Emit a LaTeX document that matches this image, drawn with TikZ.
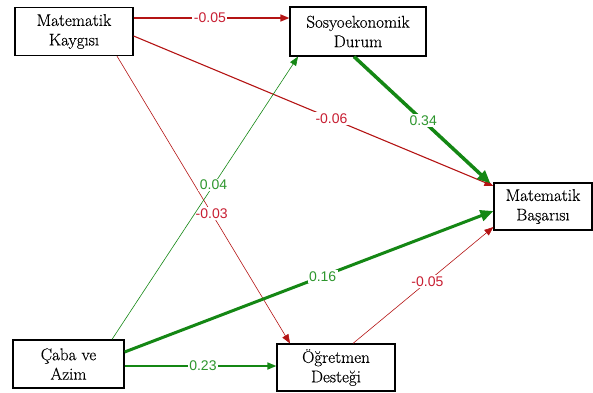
\documentclass[tikz,border=0pt]{standalone}
\usepackage{fontspec}
\setmainfont{Latin Modern Roman}[FakeBold=0.35]
\newfontfamily\labfont{Liberation Sans}
\usetikzlibrary{arrows.meta}
\definecolor{redE}{RGB}{180,20,20}
\definecolor{redT}{RGB}{200,30,50}
\definecolor{greenE}{RGB}{20,135,20}
\definecolor{greenT}{RGB}{45,150,45}
\begin{document}
\begin{tikzpicture}[x=1pt,y=-1pt,
  box/.style={draw=black, line width=1.2pt, rectangle, inner sep=0pt, align=center,
    font=\fontsize{17}{19.5}\selectfont},
  lab/.style={fill=white, inner sep=1.5pt, font=\labfont\fontsize{14}{16}\selectfont},
  redpath/.style={draw=redE, -{Triangle[length=9pt,width=7pt]}},
  greenpath/.style={draw=greenE, -{Triangle[length=9pt,width=7pt]}},
  bigtip/.style={-{Triangle[length=13pt,width=11pt]}}]
\useasboundingbox (0,0) rectangle (593,392);
\node[box, minimum width=118pt, minimum height=48pt] (mk) at (74,31.5) {Matematik\\Kaygısı};
\node[box, minimum width=136pt, minimum height=49pt] (sd) at (358,31.5) {Sosyoekonomik\\Durum};
\node[box, minimum width=98pt, minimum height=47pt] (mb) at (543,206.5) {Matematik\\Başarısı};
\node[box, minimum width=111pt, minimum height=48pt] (ca) at (68.5,364) {Çaba ve\\Azim};
\node[box, minimum width=118pt, minimum height=47pt] (od) at (336,367.5) {Öğretmen\\Desteği};
% Matematik Kaygisi
\draw[redpath, line width=1.5pt] ([yshift=13.5pt]mk.east) -- node[lab,text=redT,pos=0.49]{-0.05} ([yshift=13.5pt]sd.west);
\draw[redpath, line width=1.1pt] ([yshift=-4.5pt]mk.east) -- node[lab,text=redT,pos=0.55]{-0.06} ([yshift=20.5pt]mb.west);
\draw[redpath, line width=0.6pt] ([xshift=43pt]mk.south) -- node[lab,text=redT,pos=0.547]{-0.03} ([xshift=-46pt]od.north);
% Caba ve Azim
\draw[greenpath, line width=0.6pt] ([xshift=43.5pt]ca.north) -- node[lab,text=greenT,pos=0.546]{0.04} ([xshift=-60pt]sd.south);
\draw[greenpath, bigtip, line width=3pt] ([yshift=12pt]ca.east) -- node[lab,text=greenT,pos=0.537]{0.16} ([yshift=-4.5pt]mb.west);
\draw[greenpath, line width=1.6pt] ([yshift=-2pt]ca.east) -- node[lab,text=greenT,pos=0.516]{0.23} ([yshift=1.5pt]od.west);
% to Matematik Basarisi
\draw[greenpath, bigtip, line width=3.5pt] ([xshift=-4pt]sd.south) -- node[lab,text=greenT,pos=0.507]{0.34} ([xshift=-3pt,yshift=-1pt]mb.north west);
\draw[redpath, line width=0.6pt] ([xshift=17pt]od.north) -- node[lab,text=redT,pos=0.53]{-0.05} ([yshift=-20.5pt]mb.west);
\end{tikzpicture}
\end{document}
